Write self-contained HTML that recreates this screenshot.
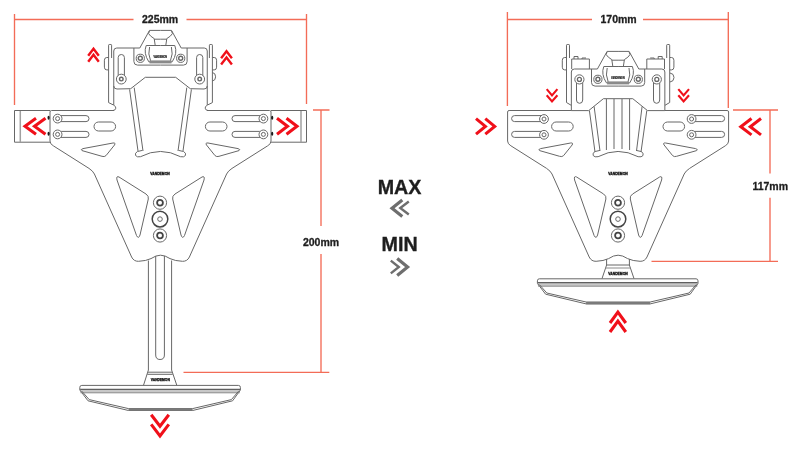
<!DOCTYPE html>
<html><head><meta charset="utf-8">
<style>
html,body{margin:0;padding:0;background:#fff;width:800px;height:450px;overflow:hidden}
svg{display:block;filter:blur(0.3px)}
text{font-family:"Liberation Sans",sans-serif;font-weight:bold;fill:#1e1e1e}
.t{filter:grayscale(1)}
</style></head><body>
<svg width="800" height="450" viewBox="0 0 800 450">
<defs>
<g id="halfPlate" fill="none" stroke="#676767" stroke-width="1" stroke-linejoin="round">
  <path d="M114,110.5 L51.5,110.5 Q50,110.5 50,112 L50,141 Q50,144 53.3,145.8 L89,168.4 Q93,171 94.4,174 L131.6,257 Q133.8,261.5 138.5,261.3 Q146,261 151,258.6 Q156,255.2 160.5,255.2"/>
  <rect x="54" y="115.6" width="35" height="6" rx="3"/>
  <rect x="54" y="131.4" width="35" height="6" rx="3"/>
  <rect x="94" y="122" width="21.6" height="9" rx="4.5"/>
  <path d="M83,148.6 L113,143 Q116,142.6 114.5,145 L106,155.6 Q104.4,157.2 102,156.3 L82,150.6 Q80,149.6 83,148.6 Z"/>
  <path d="M119,177 L146,194 Q149,196 148.3,199 L140,235 Q138.5,239.5 136.5,235.5 L117,180 Q116,175.5 119,177 Z"/>
</g>
<g id="halfBracketTop" fill="none" stroke="#676767" stroke-width="1" stroke-linejoin="round">
  <path d="M113.75,60 L113.75,51 Q113.75,48 116.75,48 L139.8,48 L149.5,30.4 L160.5,30.4"/>
  <path d="M133.9,48 L133.9,61.5 Q133.9,65.1 137.5,65.1 L160.5,65.1"/>
  <path d="M149.5,30.8 L148.6,33.6 Q150,36.2 154.2,38.6 L155.2,45.3 M154.2,39.2 L160.5,39.2"/>
  <path d="M160.5,45.5 L146.2,45.5 Q143.2,53 148.8,61.8 L160.5,61.8"/>
  <path d="M149.6,47 Q147.6,54 150.6,60.8"/>
  <circle cx="140.3" cy="58.3" r="4.1" fill="#fff"/>
  <circle cx="140.3" cy="58.3" r="2" stroke-width="1.4"/>
</g>
<g id="halfTabTop" fill="none" stroke="#676767" stroke-width="1" stroke-linejoin="round">
  <path d="M108.6,57 L108.6,45.2 Q108.6,44.5 109.3,44.5 L110.9,44.5 Q111.6,44.5 111.6,45.2 L111.6,58"/>
  <path d="M108.6,57.5 L106.8,57.5 Q104.4,57.5 104.4,60.2 L104.4,67.2 Q104.4,69.9 106.8,69.9 L108.6,69.9"/>
</g>
<g id="reflector" fill="none" stroke="#676767" stroke-width="1" stroke-linejoin="round">
  <rect x="80.3" y="389.3" width="159.7" height="3.5" fill="#c8c8c8" stroke="none"/>
  <path d="M81.8,385.4 L238.4,385.4 Q240.4,385.4 240.4,387.4 L240.4,390 L232.6,400.8 L192.6,410.5 L128.5,410.5 L88,400.8 L79.8,390 L79.8,387.4 Q79.8,385.4 81.8,385.4 Z"/>
  <path d="M80.2,389.3 L240,389.3" stroke="#606060" stroke-width="1.2"/>
  <path d="M80.6,392.8 L239.6,392.8" stroke="#8a8a8a"/>
  <path d="M81.8,391.2 L89.2,399.6 L128.5,408.6 L192.6,408.6 L231.4,399.6 L238.6,391.2"/>
  <path d="M128.5,409.7 L192.6,409.7" stroke-width="2.3" stroke="#7a7a7a"/>
</g>
<g id="centerCircles" fill="none" stroke="#676767" stroke-width="1">
  <circle cx="0" cy="202.7" r="6.6"/><circle cx="0" cy="202.7" r="2.9" stroke-width="1.8" stroke="#444"/>
  <circle cx="0" cy="219.1" r="7.8" stroke-width="1.5" stroke="#444"/><circle cx="0" cy="219.1" r="2.3" stroke-width="1"/>
  <circle cx="0" cy="235.5" r="6.6"/><circle cx="0" cy="235.5" r="2.9" stroke-width="1.8" stroke="#444"/>
  <text x="-9.7" y="175" font-size="3.4" textLength="19.4" lengthAdjust="spacingAndGlyphs" fill="#111" stroke="#111" stroke-width="0.3" class="t">VANDEMON</text>
</g>
<g id="clampBand">
  <rect x="149.5" y="60.4" width="22" height="3" fill="#8a8a8a"/>
  <text x="153.5" y="58" font-size="3" textLength="13.5" lengthAdjust="spacingAndGlyphs" fill="#222" stroke="#222" stroke-width="0.2" class="t">VANDEMON</text>
</g>
</defs>

<!-- ============ LEFT FIGURE ============ -->
<g>
  <g fill="none" stroke="#676767" stroke-width="1">
    <path d="M50,110.5 L14.5,110.5 L14.5,142.2 L50,142.2"/>
    <path d="M271,110.5 L306.5,110.5 L306.5,142.2 L271,142.2"/>
  </g>
  <path d="M20.3,111 L20.3,142" stroke="#a0a0a0" stroke-width="1.5"/>
  <path d="M301,111 L301,142" stroke="#a0a0a0" stroke-width="1.5"/>
  <use href="#halfPlate"/>
  <use href="#halfPlate" transform="matrix(-1,0,0,1,321,0)"/>
  <use href="#halfBracketTop"/>
  <use href="#halfBracketTop" transform="matrix(-1,0,0,1,321,0)"/>
  <use href="#clampBand"/>
  <use href="#halfTabTop"/>
  <use href="#halfTabTop" transform="matrix(-1,0,0,1,321,0)"/>
  <use href="#centerCircles" transform="translate(160,0)"/>
  <g fill="none" stroke="#676767" stroke-width="1" stroke-linejoin="round">
    <path d="M113.75,60 L113.75,105 M207.25,60 L207.25,105"/>
    <path d="M212.4,72.5 Q215.6,73 215.6,76.8 Q215.6,80.5 212.4,81"/>
    <path d="M108.6,57 L108.6,102.6 L113.5,105 Q116.2,106.5 115.8,108.2 Q115.3,110.5 113,110.5 M212.4,57 L212.4,102.6 L207.5,105 Q204.8,106.5 205.2,108.2 Q205.7,110.5 208,110.5"/>
    <path d="M113.75,86 Q113.75,89 117,89 L130.7,88.7 L145.3,77.3 L175.7,77.3 L190.3,88.7 L204,89 Q207.25,89 207.25,86"/>
    <!-- struts -->
    <path d="M129.6,89.4 L138,151 M134.2,87.6 L143,151 M191.4,89.4 L183,151 M186.8,87.6 L178,151"/>
    <path d="M142.4,150.4 L137.5,151.5 Q134.5,153 135.6,155.5 Q137,157.5 140.5,156.7 Q160.5,146.2 180.5,156.7 Q184,157.5 185.4,155.5 Q186.5,153 183.5,151.5 L178.6,150.4"/>
    <!-- slot bolts -->
    <path d="M118.2,79 L118.2,57.5 Q118.2,54.5 121.3,54.5 Q124.4,54.5 124.4,57.5 L124.4,79"/>
    <path d="M196.6,79 L196.6,57.5 Q196.6,54.5 199.7,54.5 Q202.8,54.5 202.8,57.5 L202.8,79"/>
    <circle cx="121.3" cy="79.1" r="4.9" fill="#fff"/><circle cx="121.3" cy="79.1" r="1.8" stroke-width="1.4"/>
    <circle cx="199.7" cy="79.1" r="4.9" fill="#fff"/><circle cx="199.7" cy="79.1" r="1.8" stroke-width="1.4"/>
    <!-- plate bolts -->
    <circle cx="57.6" cy="118.6" r="4.4" fill="#fff"/><circle cx="57.6" cy="118.6" r="2"/>
    <circle cx="57.6" cy="134.4" r="4.4" fill="#fff"/><circle cx="57.6" cy="134.4" r="2"/>
    <circle cx="263.4" cy="118.6" r="4.4" fill="#fff"/><circle cx="263.4" cy="118.6" r="2"/>
    <circle cx="263.4" cy="134.4" r="4.4" fill="#fff"/><circle cx="263.4" cy="134.4" r="2"/>
    <!-- stem -->
    <path d="M148.4,260.5 L148.4,370 L143.5,385.3 M171.6,260.5 L171.6,370 L176.8,385.3"/>
    <path d="M155.7,256 L155.7,355 Q155.7,359.5 160.05,359.5 Q164.4,359.5 164.4,355 L164.4,256"/>
    <path d="M147.9,372.2 L172.1,372.2 M147.3,374.3 L172.7,374.3"/>
  </g>
  <g fill="#1a1a1a">
    <ellipse cx="48.6" cy="117.8" rx="1.1" ry="2"/><ellipse cx="48.6" cy="133.7" rx="1.1" ry="2"/>
    <ellipse cx="272.2" cy="117.8" rx="1.1" ry="2"/><ellipse cx="272.2" cy="133.7" rx="1.1" ry="2"/>
  </g>
  <text x="150.8" y="381.3" font-size="3.4" textLength="19" lengthAdjust="spacingAndGlyphs" fill="#111" stroke="#111" stroke-width="0.3" class="t">VANDEMON</text>
  <use href="#reflector"/>
</g>

<!-- ============ RIGHT FIGURE ============ -->
<g>
  <use href="#halfPlate" transform="translate(457.6,0)"/>
  <use href="#halfPlate" transform="matrix(-1,0,0,1,778.6,0)"/>
  <use href="#halfBracketTop" transform="translate(457.6,21)"/>
  <use href="#halfBracketTop" transform="matrix(-1,0,0,1,778.6,21)"/>
  <use href="#clampBand" transform="translate(457.6,21)"/>
  <use href="#halfTabTop" transform="translate(457.9,0)"/>
  <use href="#halfTabTop" transform="matrix(-1,0,0,1,778.3,0)"/>
  <use href="#centerCircles" transform="translate(618,0)"/>
  <g fill="none" stroke="#676767" stroke-width="1" stroke-linejoin="round">
    <path d="M571.35,81 L571.35,110.5 M664.85,81 L664.85,110.5"/>
    <path d="M566.5,57 L566.5,102.5 L571.2,105.3 M669.7,57 L669.7,102.5 L665,105.3"/>
    <path d="M571.35,110.6 L588.7,110.6 L603.4,98.7 L632.8,98.7 L647.5,110.6 L664.85,110.6"/>
    <path d="M589.4,110.5 L595,152 M594.1,106.4 L600,151 M646.8,110.5 L641,152 M642.1,106.4 L636.5,151"/>
    <path d="M606.4,99 L606.4,150 M614,99 L614,149 M622,99 L622,149 M629.6,99 L629.6,150"/>
    <path d="M600,150.4 L595.1,151.5 Q592.1,153 593.2,155.5 Q594.6,157.5 598.1,156.7 Q618.1,146.2 638.1,156.7 Q641.6,157.5 643,155.5 Q644.1,153 641.1,151.5 L636.2,150.4"/>
    <path d="M576.5,79 L576.5,100 Q576.5,103.3 579.6,103.3 Q582.7,103.3 582.7,100 L582.7,79"/>
    <path d="M653.5,79 L653.5,100 Q653.5,103.3 656.6,103.3 Q659.7,103.3 659.7,100 L659.7,79"/>
    <circle cx="579.4" cy="79.4" r="4.6" fill="#fff"/><circle cx="579.4" cy="79.4" r="2" stroke-width="1.3"/>
    <circle cx="656.8" cy="79.4" r="4.6" fill="#fff"/><circle cx="656.8" cy="79.4" r="2" stroke-width="1.3"/>
    <path d="M571.7,69 L571.7,59 L589.4,59 L589.4,69 M574,59 L574,56.5 L578,56.5 L578,59 M582,59 L582,58 L586,58"/>
    <path d="M664.5,69 L664.5,59 L646.8,59 L646.8,69 M662.2,59 L662.2,56.5 L658.2,56.5 L658.2,59 M654.2,59 L654.2,58 L650.2,58"/>
    <path d="M670,73 Q674,73.5 674,77.5 Q674,81.5 670,82"/>
    <circle cx="544" cy="119" r="4.4" fill="#fff"/><circle cx="544" cy="119" r="2"/>
    <circle cx="544" cy="134.8" r="4.4" fill="#fff"/><circle cx="544" cy="134.8" r="2"/>
    <circle cx="691.6" cy="119" r="4.4" fill="#fff"/><circle cx="691.6" cy="119" r="2"/>
    <circle cx="691.6" cy="134.8" r="4.4" fill="#fff"/><circle cx="691.6" cy="134.8" r="2"/>
    <path d="M606.6,259 L606.6,265 L602,278.6 M629.4,259 L629.4,265 L634,278.6"/>
    <path d="M606.4,265 L629.6,265"/><path d="M605.5,268 L630.5,268" stroke="#8a8a8a"/>
  </g>
  <text x="608.3" y="274.7" font-size="3.4" textLength="19.4" lengthAdjust="spacingAndGlyphs" fill="#111" stroke="#111" stroke-width="0.3" class="t">VANDEMON</text>
  <use href="#reflector" transform="translate(457.6,-106.6)"/>
</g>

<!-- ============ DIMENSIONS ============ -->
<g fill="none" stroke="#f36c57" stroke-width="1.35">
  <path d="M14.5,14 L14.5,105 M306.5,14 L306.5,104 M14.5,19.5 L133.5,19.5 M186.5,19.5 L306.5,19.5"/>
  <path d="M313,110 L329.5,110 M321,110 L321,226 M321,254 L321,372.5 M183.5,372.3 L329.3,372.3"/>
  <path d="M507.4,12 L507.4,106 M728.3,12 L728.3,108 M507.4,19.5 L592,19.5 M643,19.5 L728.3,19.5"/>
  <path d="M733,110 L778,110 M770,110 L770,173.4 M770,197.7 L770,261.3 M651.5,261.3 L778,261.3"/>
</g>
<g class="t"><text x="142" y="22.5" font-size="10.5" stroke="#1e1e1e" stroke-width="0.3">225mm</text>
<text x="302.9" y="245.6" font-size="10.5" stroke="#1e1e1e" stroke-width="0.3">200mm</text>
<text x="600.5" y="22.5" font-size="10.5" stroke="#1e1e1e" stroke-width="0.3">170mm</text>
<text x="752.4" y="189.9" font-size="10.5" stroke="#1e1e1e" stroke-width="0.3">117mm</text>
<text x="399.6" y="193.9" font-size="19.7" text-anchor="middle" stroke="#1e1e1e" stroke-width="0.35">MAX</text>
<text x="399.6" y="251" font-size="19.7" text-anchor="middle" stroke="#1e1e1e" stroke-width="0.35">MIN</text></g>

<!-- ============ CHEVRONS ============ -->
<g fill="none" stroke="#f0101a" stroke-width="2.4" stroke-linejoin="miter" stroke-miterlimit="10">
  <path d="M88.2,55.7 L93.5,48.7 L98.8,55.7 M88.2,61.7 L93.5,54.7 L98.8,61.7"/>
  <path d="M221.1,58.2 L226.5,51.3 L231.9,58.2 M221.1,64.4 L226.5,57.5 L231.9,64.4"/>
</g>
<g fill="none" stroke="#f0101a" stroke-width="2.1" stroke-linejoin="miter" stroke-miterlimit="10">
  <path d="M546.7,89.1 L552,95.4 L557.4,89.1 M546.7,95.2 L552,101.5 L557.4,95.2"/>
  <path d="M678.3,89.1 L683.6,95.4 L689,89.1 M678.3,95.2 L683.6,101.5 L689,95.2"/>
</g>
<g fill="none" stroke="#f0101a" stroke-width="3.05" stroke-linejoin="miter" stroke-miterlimit="10">
  <path d="M36,118.3 L25,126.3 L36,134.3 M45.5,118.3 L34.5,126.3 L45.5,134.3"/>
  <path d="M277,118.3 L287.5,126.3 L277,134.3 M286.5,118.3 L297,126.3 L286.5,134.3"/>
  <path d="M151.2,414.8 L160,426.3 L168.8,414.8 M151.2,424.4 L160,435.9 L168.8,424.4"/>
  <path d="M476,118.6 L485.4,126.4 L476,134.2 M485.3,118.6 L494.7,126.4 L485.3,134.2"/>
  <path d="M751.5,118.5 L740.8,126.7 L751.5,134.9 M761,118.5 L750.3,126.7 L761,134.9"/>
  <path d="M610,323 L617.9,312 L625.8,323 M610,332 L617.9,321 L625.8,332"/>
</g>
<g fill="none" stroke="#6e6e6e" stroke-linejoin="miter" stroke-miterlimit="10">
  <path d="M402.3,199.9 L392,208.2 L402.3,216.6" stroke-width="3.2"/>
  <path d="M408.8,201.5 L400.3,208 L408.8,214.5" stroke-width="2.4"/>
  <path d="M390.8,260.6 L398.8,267 L390.8,273.4" stroke-width="2.4"/>
  <path d="M397.2,258.5 L407.6,267 L397.2,275.5" stroke-width="3.2"/>
</g>
</svg>
</body></html>
